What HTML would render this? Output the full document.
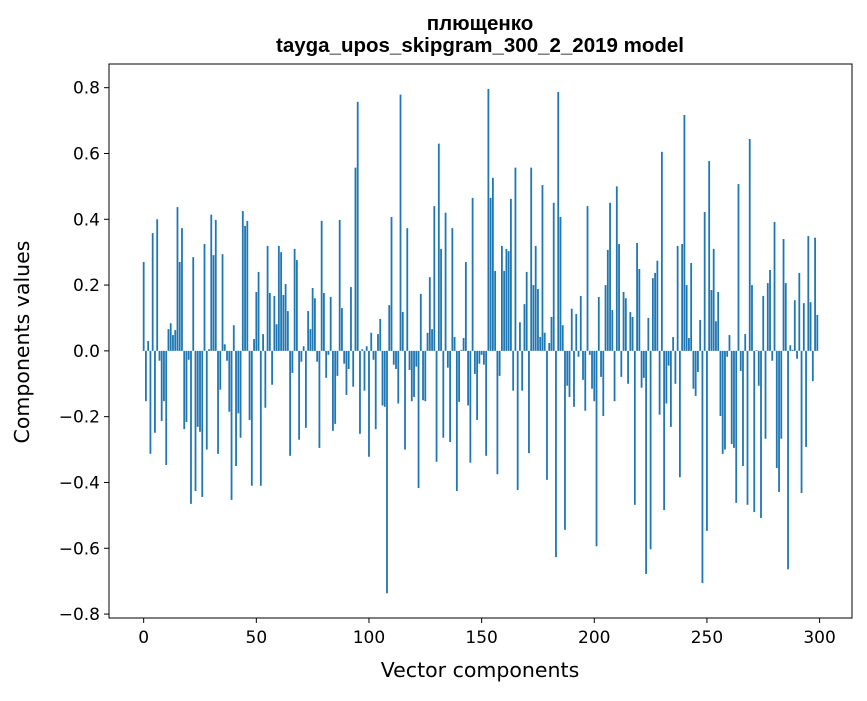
<!DOCTYPE html>
<html><head><meta charset="utf-8"><style>
html,body{margin:0;padding:0;background:#fff;}
svg text{font-family:"DejaVu Sans","Liberation Sans",sans-serif;}
svg text.ttl{font-family:"Liberation Sans","DejaVu Sans",sans-serif;}
</style></head><body>
<svg id="chart" width="867" height="696" viewBox="0 0 867 696" xmlns="http://www.w3.org/2000/svg">
<rect width="867" height="696" fill="#fff"/>
<text class="ttl" x="480" y="30" text-anchor="middle" font-size="20.5" font-weight="bold">плющенко</text>
<text class="ttl" x="480" y="52" text-anchor="middle" font-size="20.5" font-weight="bold">tayga_upos_skipgram_300_2_2019 model</text>
<g id="bars"></g>
<g id="xticks"></g>
<g id="yticks"></g>
<rect x="109" y="64" width="743" height="554" fill="none" stroke="#000" stroke-width="1"/>
<text x="480" y="677" text-anchor="middle" font-size="20.5">Vector components</text>
<text transform="translate(29,342) rotate(-90)" text-anchor="middle" font-size="20.5">Components values</text>
</svg>
<script>
const values = [
0.27,-0.153,0.03,-0.313,0.358,-0.249,0.40,-0.03,-0.213,-0.153,
-0.347,0.066,0.084,0.048,0.063,0.437,0.27,0.373,-0.238,-0.216,
-0.027,-0.465,0.285,-0.426,-0.231,-0.246,-0.444,0.325,-0.30,0.005,
0.414,0.291,0.398,-0.313,-0.118,0.294,0.02,-0.03,-0.185,-0.453,
0.078,-0.35,-0.19,-0.264,0.425,0.38,0.395,-0.21,-0.41,0.036,
0.179,0.24,-0.41,0.051,-0.173,0.319,0.176,-0.103,0.167,0.081,
0.319,0.30,0.17,0.203,0.121,-0.319,-0.067,0.31,0.276,-0.27,
-0.033,0.014,-0.234,0.121,0.066,0.191,0.16,-0.033,-0.295,0.395,
0.176,-0.082,-0.012,0.164,-0.243,-0.222,-0.076,0.398,0.13,-0.039,
-0.134,-0.055,0.194,-0.109,0.557,0.757,-0.252,0.005,-0.121,0.014,
-0.322,0.055,-0.027,-0.238,0.051,0.097,-0.166,-0.17,-0.737,0.139,
0.407,-0.042,-0.055,-0.16,0.779,0.118,-0.30,0.373,-0.058,-0.153,
-0.14,-0.048,-0.417,0.173,-0.15,-0.153,0.055,0.224,0.066,0.44,
-0.337,0.63,0.31,-0.264,0.42,-0.051,-0.277,0.373,0.042,-0.426,
-0.155,0.003,0.039,0.27,-0.166,-0.34,0.465,-0.07,-0.21,-0.039,
-0.012,-0.042,-0.319,0.796,0.465,0.526,0.243,-0.375,-0.076,0.319,
0.243,0.31,0.303,0.462,-0.121,0.557,-0.423,0.087,-0.121,0.142,
0.24,-0.311,0.557,0.20,0.319,0.188,0.042,0.504,0.055,-0.392,
0.024,0.103,0.45,-0.627,0.787,0.407,0.078,-0.544,-0.106,-0.14,
0.128,-0.17,0.112,-0.018,0.167,-0.088,-0.182,0.44,-0.012,-0.115,
-0.153,-0.594,0.164,-0.079,-0.198,0.20,0.307,0.45,0.124,-0.153,
0.50,0.325,-0.079,0.179,0.16,-0.10,0.118,0.103,-0.468,0.328,
0.249,-0.112,-0.082,-0.678,0.10,-0.603,0.221,0.237,0.274,-0.194,
0.605,-0.484,-0.16,-0.045,-0.231,0.042,-0.10,0.319,-0.384,0.325,
0.717,0.20,0.039,0.267,-0.115,-0.137,-0.064,0.094,-0.706,0.422,
-0.547,0.577,0.185,0.31,0.09,0.179,-0.198,-0.313,-0.30,-0.018,
0.048,-0.283,-0.295,-0.462,0.507,-0.061,-0.35,0.051,-0.468,0.644,
0.20,-0.49,0.002,-0.106,-0.508,0.167,-0.267,0.206,0.246,-0.03,
0.392,-0.356,-0.429,-0.267,0.34,0.206,-0.664,0.017,0.003,0.154,
-0.024,0.237,-0.432,0.145,-0.292,0.349,0.148,-0.092,0.344,0.109
];
const xTicks = [0,50,100,150,200,250,300];
const yTicks = [-0.8,-0.6,-0.4,-0.2,0.0,0.2,0.4,0.6,0.8];
const NS = "http://www.w3.org/2000/svg";
const L=109,R=852,T=64,B=618;
const xMin=-15.39,xMax=314.39;
const yMin=-0.812,yMax=0.872;
function sx(v){return L+(v-xMin)/(xMax-xMin)*(R-L);}
function sy(v){return B-(v-yMin)/(yMax-yMin)*(B-T);}
const bars=document.getElementById('bars');
values.forEach((v,i)=>{
  const r=document.createElementNS(NS,'rect');
  const x0=sx(i-0.4),x1=sx(i+0.4);
  const y0=sy(Math.max(v,0)),y1=sy(Math.min(v,0));
  r.setAttribute('x',x0);r.setAttribute('width',x1-x0);
  r.setAttribute('y',y0);r.setAttribute('height',Math.max(y1-y0,0.01));
  r.setAttribute('fill','#1f77b4');
  
  
  bars.appendChild(r);
});
const xg=document.getElementById('xticks');
xTicks.forEach(t=>{
  const x=sx(t);
  const ln=document.createElementNS(NS,'line');
  ln.setAttribute('x1',x);ln.setAttribute('x2',x);ln.setAttribute('y1',B);ln.setAttribute('y2',B+5);
  ln.setAttribute('stroke','#000');
  
  
  xg.appendChild(ln);
  const tx=document.createElementNS(NS,'text');
  tx.setAttribute('x',x);tx.setAttribute('y',B+25);tx.setAttribute('text-anchor','middle');tx.setAttribute('font-size','17');
  tx.textContent=String(t);
  
  
  xg.appendChild(tx);
});
const yg=document.getElementById('yticks');
yTicks.forEach(t=>{
  const y=sy(t);
  const ln=document.createElementNS(NS,'line');
  ln.setAttribute('x1',L-5);ln.setAttribute('x2',L);ln.setAttribute('y1',y);ln.setAttribute('y2',y);
  ln.setAttribute('stroke','#000');
  
  
  yg.appendChild(ln);
  const tx=document.createElementNS(NS,'text');
  tx.setAttribute('x',L-9);tx.setAttribute('y',y+6);tx.setAttribute('text-anchor','end');tx.setAttribute('font-size','17');
  tx.textContent=t.toFixed(1).replace('-','\u2212');
  
  
  yg.appendChild(tx);
});
</script>
</body></html>
